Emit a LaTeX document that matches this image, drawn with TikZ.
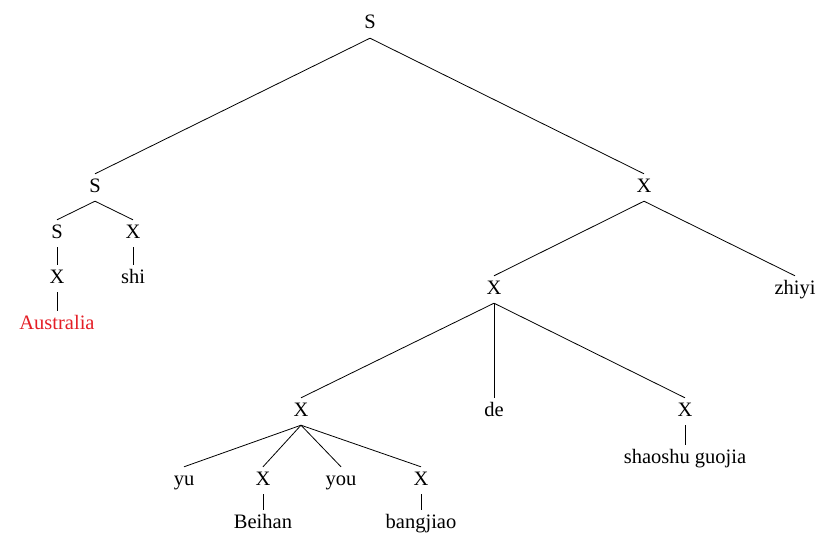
\documentclass[tikz,border=0pt]{standalone}
\usepackage{fontspec}
\setmainfont{Liberation Serif}
\definecolor{wordred}{RGB}{228,30,38}
\begin{document}
\begin{tikzpicture}[x=1pt,y=-1pt,
  lbl/.style={anchor=base,inner xsep=2pt,inner ysep=5pt,text height=13pt,text depth=4pt,font=\fontsize{20.5}{24}\selectfont},
  edge/.style={draw=black,line width=0.8pt}]
\useasboundingbox (0,0) rectangle (833,535);
% row 0
\node[lbl] (s0) at (370,29) {S};
% row 1
\node[lbl] (s1) at (95,192) {S};
\node[lbl] (x1) at (644,192) {X};
% left subtree
\node[lbl] (s2) at (57,238) {S};
\node[lbl] (x2) at (133,238) {X};
\node[lbl] (x3) at (57,283) {X};
\node[lbl] (shi) at (133,283) {shi};
\node[lbl,text=wordred] (aus) at (57,329) {Australia};
% right subtree
\node[lbl] (x4) at (494,294) {X};
\node[lbl] (zhiyi) at (795,294) {zhiyi};
\node[lbl] (x5) at (301,416) {X};
\node[lbl] (de) at (494,416) {de};
\node[lbl] (x6) at (685,416) {X};
\node[lbl] (sg) at (685,463) {shaoshu guojia};
\node[lbl] (yu) at (184,485) {yu};
\node[lbl] (x7) at (263,485) {X};
\node[lbl] (you) at (341,485) {you};
\node[lbl] (x8) at (421,485) {X};
\node[lbl] (beihan) at (263,528) {Beihan};
\node[lbl] (bangjiao) at (421,528) {bangjiao};
% edges
\draw[edge] (s0.south) -- (s1.north);
\draw[edge] (s0.south) -- (x1.north);
\draw[edge] (s1.south) -- (s2.north);
\draw[edge] (s1.south) -- (x2.north);
\draw[edge] (s2.south) -- (x3.north);
\draw[edge] (x2.south) -- (shi.north);
\draw[edge] (x3.south) -- (aus.north);
\draw[edge] (x1.south) -- (x4.north);
\draw[edge] (x1.south) -- (zhiyi.north);
\draw[edge] (x4.south) -- (x5.north);
\draw[edge] (x4.south) -- (de.north);
\draw[edge] (x4.south) -- (x6.north);
\draw[edge] (x6.south) -- (sg.north);
\draw[edge] (x5.south) -- (yu.north);
\draw[edge] (x5.south) -- (x7.north);
\draw[edge] (x5.south) -- (you.north);
\draw[edge] (x5.south) -- (x8.north);
\draw[edge] (x7.south) -- (beihan.north);
\draw[edge] (x8.south) -- (bangjiao.north);
\end{tikzpicture}
\end{document}
